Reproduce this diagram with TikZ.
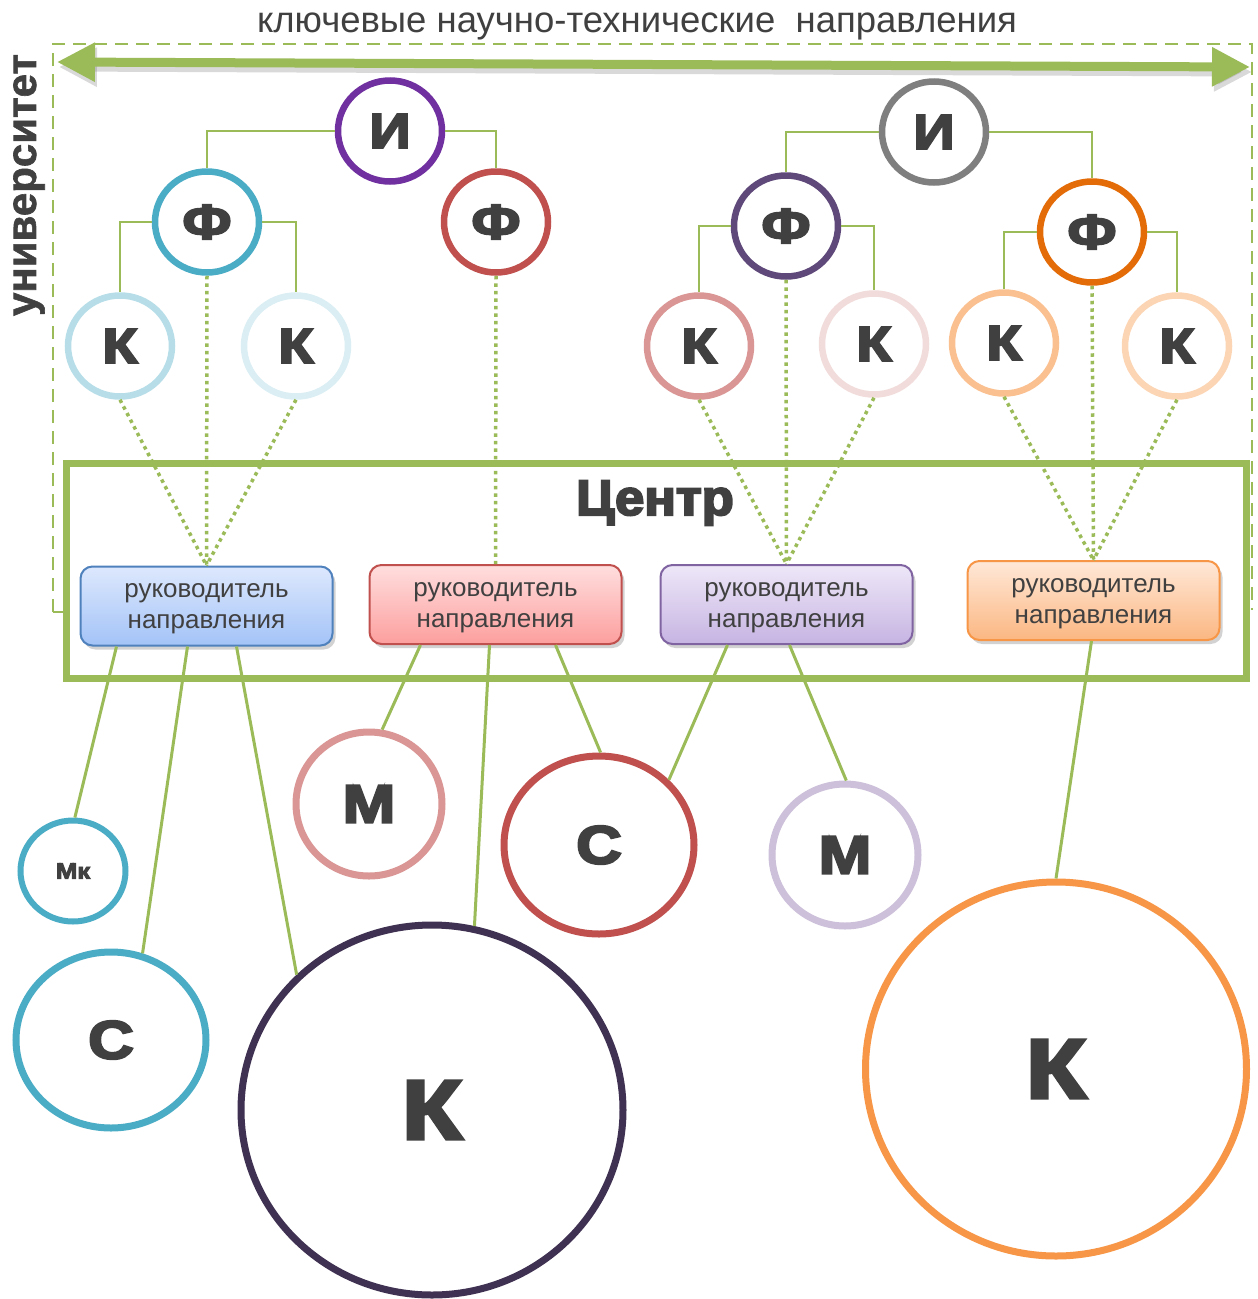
\documentclass[tikz,border=0pt]{standalone}
\usepackage{fontspec}
\usepackage{graphicx}
\setmainfont{Liberation Sans}
\newfontfamily\heavy{Liberation Sans Bold}[FakeBold=4]
\newfontfamily\semiheavy{Liberation Sans Bold}[FakeBold=1.5]
\newcommand\widened[2][1.17]{\scalebox{#1}[1]{#2}}
\usetikzlibrary{shapes.geometric,arrows.meta,calc,shadows}

\definecolor{leafgreen}{HTML}{9BBB59}
\definecolor{ink}{HTML}{404040}
\definecolor{iviolet}{HTML}{7030A0}
\definecolor{igrey}{HTML}{7F7F7F}
\definecolor{fblue}{HTML}{4BACC6}
\definecolor{fred}{HTML}{C0504D}
\definecolor{fplum}{HTML}{5F497A}
\definecolor{forange}{HTML}{E36C09}
\definecolor{kone}{HTML}{B7DEE8}
\definecolor{ktwo}{HTML}{DAEEF3}
\definecolor{kthree}{HTML}{D99694}
\definecolor{kfour}{HTML}{F2DCDB}
\definecolor{kfive}{HTML}{FAC090}
\definecolor{ksix}{HTML}{FCD5B5}
\definecolor{deepplum}{HTML}{3F3151}
\definecolor{lavender}{HTML}{CCC0DA}
\definecolor{softorange}{HTML}{F79646}
\definecolor{boxblue}{HTML}{4F81BD}
\definecolor{boxviolet}{HTML}{8064A2}
\definecolor{bluetop}{HTML}{DDE8FD}
\definecolor{bluebot}{HTML}{A3C3F7}
\definecolor{redtop}{HTML}{FFDEDE}
\definecolor{redbot}{HTML}{FC9F9E}
\definecolor{violettop}{HTML}{EEE7F8}
\definecolor{violetbot}{HTML}{C6B4E2}
\definecolor{orangetop}{HTML}{FFE8D8}
\definecolor{orangebot}{HTML}{FBB782}

\begin{document}
\begin{tikzpicture}[x=1pt,y=-1pt,
  orb/.style={ellipse, draw, fill=white, inner sep=0pt, text=ink},
  small orb/.style={orb, line width=6.5pt, minimum width=104pt, minimum height=101pt,
    font=\heavy\fontsize{49}{49}\selectfont},
  leadbox/.style={draw, rounded corners=12pt, line width=2pt, minimum width=252pt,
    minimum height=79pt,
    drop shadow={opacity=0.35, shadow xshift=3pt, shadow yshift=-4pt}},
  leadtext/.style={align=center, text=ink, font=\fontsize{26}{31}\selectfont},
  tree/.style={leafgreen, line width=2pt},
  dotlink/.style={leafgreen, line width=3.5pt, dash pattern=on 3.5pt off 4pt},
  link/.style={leafgreen, line width=3pt}]

\useasboundingbox (0,0) rectangle (1258,1299);

% university frame
\draw[leafgreen, line width=2pt, dash pattern=on 13pt off 8pt]
  (53,612) -- (53,44) -- (1252,44) -- (1252,610);
\draw[leafgreen, line width=2pt] (53,612) -- (66,612);

% caption and side label
\node[text=ink, font=\fontsize{36.5}{40}\selectfont] (title) at (637,26)
  {ключевые научно-технические\ \ направления};
\node[text=ink, font=\semiheavy\fontsize{42}{44}\selectfont, rotate=90] (univ) at (29,185)
  {университет};

% double arrow of the directions
\coordinate (al) at (57,62);
\coordinate (ar) at (1250,67);
\draw[black!60, opacity=0.25, line width=9pt,
  {Triangle[length=38pt,width=37pt]}-{Triangle[length=38pt,width=37pt]}]
  ($(al)+(2,5)$) -- ($(ar)+(2,5)$);
\draw[leafgreen, line width=9pt,
  {Triangle[length=38pt,width=37pt]}-{Triangle[length=38pt,width=37pt]}]
  (al) -- (ar);

% centre frame
\node[draw=leafgreen, line width=7pt, fill=white, minimum width=1180pt,
  minimum height=215pt, inner sep=0pt] (ctr) at (656,570.5) {};
\node[text=ink, font=\heavy\fontsize{50}{50}\selectfont] (ctrlabel) at (655,503)
  {\widened[1.05]{Центр}};

% institutes, faculties, chairs
\node[small orb, draw=iviolet] (i1) at (390,131) {\widened{И}};
\node[small orb, draw=igrey] (i2) at (934,132) {\widened{И}};
\node[small orb, draw=fblue] (f1) at (207,222) {\widened{Ф}};
\node[small orb, draw=fred] (f2) at (496,222) {\widened{Ф}};
\node[small orb, draw=fplum] (f3) at (786,226) {\widened{Ф}};
\node[small orb, draw=forange] (f4) at (1092,232) {\widened{Ф}};
\node[small orb, draw=kone] (k1) at (120,346) {\widened{К}};
\node[small orb, draw=ktwo] (k2) at (296,346) {\widened{К}};
\node[small orb, draw=kthree] (k3) at (699,346) {\widened{К}};
\node[small orb, draw=kfour] (k4) at (874,344) {\widened{К}};
\node[small orb, draw=kfive] (k5) at (1004,343) {\widened{К}};
\node[small orb, draw=ksix] (k6) at (1177,346) {\widened{К}};

% direction leaders
\node[leadbox, draw=boxblue, top color=bluetop, bottom color=bluebot] (b1) at (206.5,606) {};
\node[leadbox, draw=fred, top color=redtop, bottom color=redbot] (b2) at (495.5,604.5) {};
\node[leadbox, draw=boxviolet, top color=violettop, bottom color=violetbot] (b3) at (786.5,604.5) {};
\node[leadbox, draw=softorange, top color=orangetop, bottom color=orangebot] (b4) at (1093.5,600.5) {};
\foreach \b in {b1,b2,b3,b4}
  \node[leadtext] (\b-text) at ($(\b)+(0,3)$) {руководитель\\направления};

% hierarchy links
\draw[tree] (i1.west) -| (f1.north);
\draw[tree] (i1.east) -| (f2.north);
\draw[tree] (f1.west) -| (k1.north);
\draw[tree] (f1.east) -| (k2.north);
\draw[tree] (i2.west) -| (f3.north);
\draw[tree] (i2.east) -| (f4.north);
\draw[tree] (f3.west) -| (k3.north);
\draw[tree] (f3.east) -| (k4.north);
\draw[tree] (f4.west) -| (k5.north);
\draw[tree] (f4.east) -| (k6.north);

% links to the leaders
\foreach \src/\dst in {k1/b1, f1/b1, k2/b1, f2/b2, k3/b3, f3/b3, k4/b3, k5/b4, f4/b4, k6/b4}
  \draw[dotlink] (\src.south) -- (\dst.north);

% teams below the centre
\node[orb, draw=fblue, line width=6pt, minimum width=105pt, minimum height=101pt,
  font=\heavy\fontsize{22}{22}\selectfont] (mk) at (73,871) {\widened{Мк}};
\node[orb, draw=fblue, line width=7pt, minimum width=190pt, minimum height=176pt,
  font=\heavy\fontsize{54}{54}\selectfont] (c1) at (111,1040) {\widened{С}};
\node[orb, draw=deepplum, line width=7pt, minimum width=382pt, minimum height=370pt,
  font=\heavy\fontsize{84}{84}\selectfont] (kb1) at (432,1110) {\widened{К}};
\node[orb, draw=kthree, line width=7pt, minimum width=146pt, minimum height=144pt,
  font=\heavy\fontsize{54}{54}\selectfont] (m1) at (369,804) {\widened{М}};
\node[orb, draw=fred, line width=7pt, minimum width=190pt, minimum height=178pt,
  font=\heavy\fontsize{54}{54}\selectfont] (c2) at (599,845) {\widened{С}};
\node[orb, draw=lavender, line width=7pt, minimum width=146pt, minimum height=142pt,
  font=\heavy\fontsize{54}{54}\selectfont] (m2) at (845,855) {\widened{М}};
\node[orb, draw=softorange, line width=7pt, minimum width=381pt, minimum height=374pt,
  font=\heavy\fontsize{84}{84}\selectfont] (kb2) at (1056,1069) {\widened{К}};

\draw[link] ($(b1.south west)+(37,0)$) -- (mk.88);
\draw[link] ($(b1.south west)+(108,0)$) -- (c1.70);
\draw[link] ($(b1.south west)+(157,0)$) -- (kb1.135);
\draw[link] ($(b2.south west)+(52,0)$) -- (m1.80);
\draw[link] ($(b2.south west)+(121,0)$) -- (kb1.77);
\draw[link] ($(b2.south west)+(187,0)$) -- (c2.89);
\draw[link] ($(b3.south west)+(68,0)$) -- (c2.43);
\draw[link] ($(b3.south west)+(130,0)$) -- (m2.89);
\draw[link] ($(b4.south west)+(125,0)$) -- (kb2.90);
\end{tikzpicture}
\end{document}
